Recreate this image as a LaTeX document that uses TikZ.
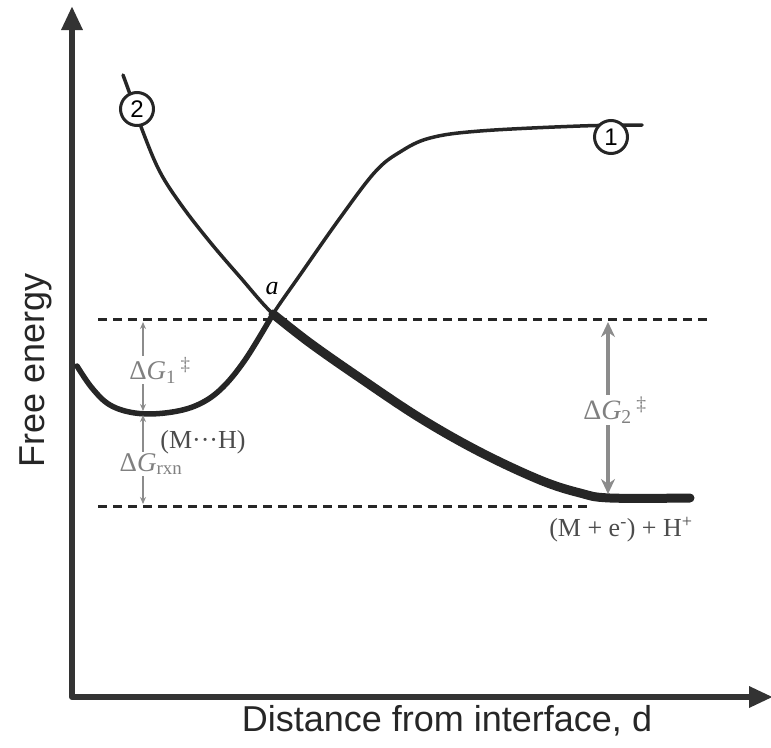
\documentclass[tikz,border=0pt]{standalone}
\usepackage{fontspec}
\setmainfont{Liberation Serif}
\setsansfont{Liberation Sans}
\usetikzlibrary{arrows.meta}

\begin{document}
\begin{tikzpicture}[
    x = 1pt, y = -1pt,
    axis/.style = {draw=black!80, line width=6pt, line join=round, {Triangle[length=24pt,width=20pt]}-{Triangle[length=24pt,width=20pt]}},
    curve/.style = {draw=black!85, line width=3.5pt, line cap=round},
    lowpath/.style = {draw=black!85, line width=9pt, line cap=round},
    level/.style = {draw=black!85, line width=3pt, dash pattern=on 9pt off 6pt},
    gapsmall/.style = {draw=black!45, line width=1.2pt, {Stealth[length=7pt,width=6pt]}-{Stealth[length=7pt,width=6pt]}},
    gapbig/.style = {draw=black!45, line width=4pt, {Stealth[length=15pt,width=14pt]}-{Stealth[length=15pt,width=14pt]}},
    tag/.style = {circle, draw=black!85, line width=3pt, fill=white, minimum size=33pt, inner sep=0pt, font=\sffamily\fontsize{24}{24}\selectfont},
    energy/.style = {fill=white, inner sep=1pt, text=black!50, font=\fontsize{27}{27}\selectfont},
    species/.style = {inner sep=0pt, text=black!70, font=\fontsize{26}{26}\selectfont},
    axislabel/.style = {font=\sffamily\fontsize{36}{36}\selectfont, text=black!85}
]
\useasboundingbox (0,0) rectangle (771,747);

% Axes
\coordinate (O) at (72,697);
\coordinate (ytip) at (72,6);
\coordinate (xtip) at (773,697);
\draw [axis] (ytip) -- (O) -- (xtip);
\node (ylab) [axislabel, rotate=90] at (36,370) {Free energy};
\node (xlab) [axislabel] at (447,721) {Distance from interface, d};

% Levels
\coordinate (topL) at (98,319);
\coordinate (topR) at (712,319);
\coordinate (botL) at (98,506);
\coordinate (botR) at (590,506);
\draw [level] (topL) -- (topR);
\draw [level] (botL) -- (botR);

% Curve 1
\draw [curve] plot [smooth, tension=0.6] coordinates {(77,366) (92,388) (110,405) (135,413) (165,413) (195,406) (220,390) (245,360) (273,314) (300,275) (340,218) (375,172) (400,152) (430,138) (480,131) (580,126) (642,125)};
\draw [curve, line width=5.5pt] plot [smooth, tension=0.6] coordinates {(77,366) (92,388) (110,405) (135,413) (165,413) (195,406) (220,390) (245,360) (273,314)};

% Curve 2
\draw [curve] plot [smooth, tension=0.6] coordinates {(123,75) (131,97) (143,132) (160,172) (182,206) (210,242) (240,277) (273,314) (310,343) (360,378) (420,418) (480,452) (540,480) (580,493) (610,498) (690,498)};
\draw [lowpath] plot [smooth, tension=0.6] coordinates {(273,314) (310,343) (360,378) (420,418) (480,452) (540,480) (580,493) (610,498) (690,498)};

\node (one) [tag] at (611,137) {1};
\node (two) [tag] at (137,109) {2};
\node (cross) [font=\itshape\fontsize{26}{26}\selectfont] at (272,289) {a};

% Gaps
\coordinate (g1top) at (143,322);
\coordinate (g1bot) at (143,411);
\coordinate (grtop) at (143,415);
\coordinate (grbot) at (143,504);
\coordinate (g2top) at (608,322);
\coordinate (g2bot) at (608,494);
\draw [gapsmall] (g1top) -- (g1bot);
\draw [gapsmall] (grtop) -- (grbot);
\draw [gapbig] (g2top) -- (g2bot);

\node (dG1) [energy] at (160,370) {Δ\textit{G}\textsubscript{1}\,\textsuperscript{‡}};
\node (dGr) [energy] at (151,464) {Δ\textit{G}\textsubscript{rxn}};
\node (dG2) [energy, font=\fontsize{28}{28}\selectfont] at (615,410) {Δ\textit{G}\textsubscript{2}\,\textsuperscript{‡}};
\node (MH) [species] at (203,442) {(M···H)};
\node (prod) [species] at (621,530) {(M + e\textsuperscript{-}) + H\textsuperscript{+}};

\end{tikzpicture}
\end{document}
